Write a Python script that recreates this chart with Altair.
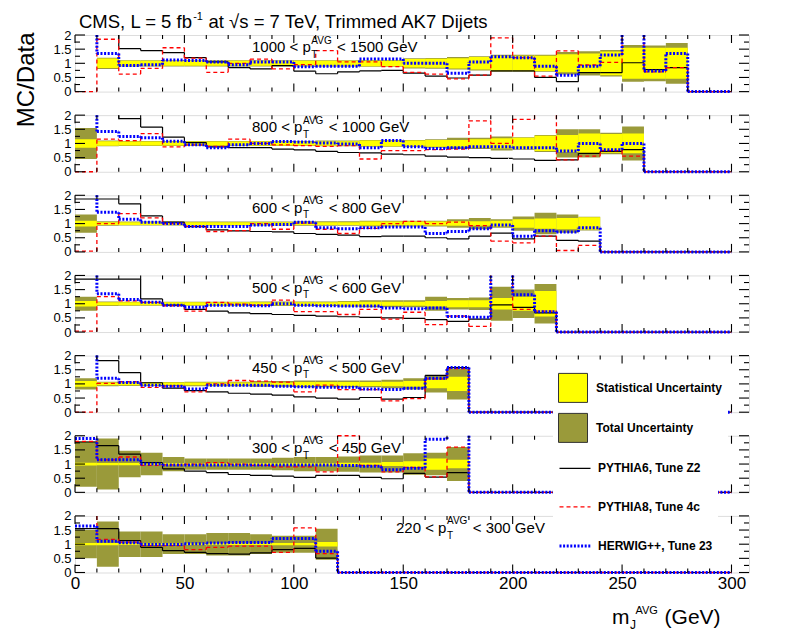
import altair as alt
import pandas as pd

FONT = "Liberation Sans"
BIN = 10.0
X_MAX = 308
W_PANEL = 674
H_PANEL = 56.6
GAP = 23.15

# ---------------- data ----------------
pt_lo = [1000, 800, 600, 500, 450, 300, 220]
pt_hi = [1500, 1000, 800, 600, 500, 450, 300]

series_names = ["PYTHIA6, Tune Z2", "PYTHIA8, Tune 4c", "HERWIG++, Tune 23"]
band_names = ["Statistical Uncertainty", "Total Uncertainty"]

# panel 1: 1000 < pT < 1500
p6_1 = [2.3, 2.3, 1.52, 1.45, 1.38, 1.2, 1.05, 0.85, 0.8, 0.92, 0.72, 0.63, 0.7, 0.73, 0.75, 0.65, 0.55, 0.48, 0.58, 0.73, 0.73, 0.5, 0.35, 0.67, 0.67, 1.02, 0.78, 0.85, 0, 0]
p8_1 = [0, 1.85, 0.62, 0.82, 1.55, 1.18, 0.68, 1.0, 1.15, 0.8, 0.95, 1.45, 1.05, 1.05, 0.88, 0.68, 0.62, 0.45, 0.58, 1.9, 1.2, 0.55, 1.44, 0.94, 1.03, 2.3, 0.7, 0.85, 0, 0]
hw_1 = [2.3, 1.35, 0.92, 0.95, 1.12, 1.1, 1.05, 0.95, 1.05, 1.05, 0.88, 0.9, 0.9, 1.15, 1.15, 1.0, 1.0, 0.65, 1.05, 1.23, 1.2, 0.9, 0.58, 0.9, 1.29, 2.3, 0.73, 1.35, 0, 0]
stat_1 = [None, 0.17, 0.09, 0.09, 0.09, 0.09, 0.09, 0.09, 0.09, 0.09, 0.09, 0.09, 0.09, 0.1, 0.1, 0.15, 0.16, 0.18, 0.22, 0.27, 0.27, 0.27, 0.32, 0.35, 0.42, 0.55, 0.55, 0.55]
tot_1 = [None, 0.2, 0.11, 0.11, 0.11, 0.11, 0.11, 0.11, 0.11, 0.11, 0.11, 0.11, 0.11, 0.12, 0.12, 0.18, 0.19, 0.22, 0.25, 0.3, 0.3, 0.3, 0.4, 0.43, 0.47, 0.65, 0.63, 0.72]

# panel 2: 800 < pT < 1000
p6_2 = [2.3, 2.3, 1.88, 1.58, 1.22, 1.03, 0.88, 0.85, 0.85, 0.8, 0.77, 0.72, 0.68, 0.67, 0.62, 0.6, 0.55, 0.52, 0.5, 0.47, 0.45, 0.4, 0.42, 0.65, 0.72, 0.78, 0, 0, 0, 0]
p8_2 = [0, 1.15, 1.1, 1.35, 0.88, 0.95, 0.9, 1.15, 1.0, 0.95, 0.92, 0.9, 0.92, 0.45, 0.75, 0.75, 0.78, 0.8, 1.8, 1.0, 1.85, 2.3, 0.42, 0.55, 0.75, 0.55, 0, 0, 0, 0]
hw_2 = [2.3, 1.42, 1.25, 1.2, 1.08, 0.95, 0.85, 0.95, 1.0, 1.07, 1.05, 1.02, 0.98, 0.85, 1.1, 0.88, 0.82, 0.85, 0.88, 0.88, 0.85, 0.85, 0.73, 1.0, 0.78, 1.0, 0, 0, 0, 0]
stat_2 = [0.15, 0.08, 0.07, 0.07, 0.07, 0.07, 0.07, 0.07, 0.07, 0.07, 0.07, 0.08, 0.08, 0.1, 0.1, 0.1, 0.12, 0.12, 0.15, 0.18, 0.2, 0.27, 0.3, 0.35, 0.33, 0.35]
tot_2 = [0.55, 0.1, 0.09, 0.09, 0.09, 0.09, 0.09, 0.09, 0.09, 0.09, 0.09, 0.1, 0.1, 0.12, 0.12, 0.12, 0.15, 0.2, 0.2, 0.25, 0.22, 0.3, 0.5, 0.5, 0.38, 0.6]

# panel 3: 600 < pT < 800
p6_3 = [1.87, 1.87, 1.7, 1.27, 1.05, 0.89, 0.78, 0.74, 0.72, 0.71, 0.65, 0.62, 0.59, 0.54, 0.56, 0.56, 0.5, 0.46, 0.56, 0.66, 0.46, 0.56, 0.41, 0.38, 0, 0, 0, 0, 0, 0]
p8_3 = [0.03, 1.0, 1.35, 1.2, 1.0, 0.9, 0.72, 0.75, 1.0, 0.8, 1.02, 0.8, 0.65, 0.83, 1.0, 1.08, 1.0, 1.05, 0.93, 0.38, 0.32, 0.56, 0.05, 0.23, 0, 0, 0, 0, 0, 0]
hw_3 = [2.3, 1.4, 1.15, 1.05, 1.0, 0.9, 0.9, 0.9, 0.95, 0.97, 1.05, 0.85, 0.82, 0.85, 0.88, 0.88, 0.65, 0.72, 0.82, 0.95, 0.55, 0.75, 0.7, 0.85, 0, 0, 0, 0, 0, 0]
stat_3 = [0.1, 0.05, 0.05, 0.05, 0.05, 0.05, 0.05, 0.05, 0.05, 0.05, 0.05, 0.05, 0.05, 0.07, 0.07, 0.07, 0.07, 0.08, 0.08, 0.1, 0.15, 0.18, 0.2, 0.22]
tot_3 = [0.32, 0.08, 0.07, 0.07, 0.07, 0.07, 0.07, 0.07, 0.07, 0.07, 0.08, 0.08, 0.08, 0.1, 0.1, 0.1, 0.1, 0.15, 0.2, 0.15, 0.25, 0.38, 0.32, 0.24]

# panel 4: 500 < pT < 600
p6_4 = [1.87, 1.87, 1.87, 1.17, 0.95, 0.8, 0.74, 0.68, 0.65, 0.62, 0.59, 0.56, 0.54, 0.52, 0.5, 0.48, 0.44, 0.38, 0.46, 0.96, 0.87, 0.68, 0, 0, 0, 0, 0, 0, 0, 0]
p8_4 = [0.03, 1.25, 1.1, 1.05, 0.93, 0.74, 1.05, 0.99, 0.95, 1.13, 0.72, 0.72, 0.62, 0.8, 0.46, 0.7, 0.26, 0.56, 0.2, 2.3, 0.8, 0.74, 0, 0, 0, 0, 0, 0, 0, 0]
hw_4 = [2.3, 1.35, 1.15, 1.05, 0.95, 0.88, 0.95, 0.95, 0.93, 1.0, 0.95, 0.93, 0.92, 0.92, 0.85, 0.82, 0.85, 0.55, 0.52, 2.3, 1.32, 0.72, 0, 0, 0, 0, 0, 0, 0, 0]
stat_4 = [0.1, 0.05, 0.05, 0.05, 0.05, 0.05, 0.05, 0.05, 0.05, 0.05, 0.05, 0.05, 0.07, 0.07, 0.07, 0.07, 0.1, 0.12, 0.12, 0.2, 0.25, 0.45]
tot_4 = [0.25, 0.08, 0.07, 0.07, 0.07, 0.07, 0.07, 0.07, 0.08, 0.08, 0.08, 0.08, 0.1, 0.12, 0.12, 0.12, 0.25, 0.2, 0.22, 0.6, 0.5, 0.7]

# panel 5: 450 < pT < 500
p6_5 = [2.3, 1.82, 1.4, 1.04, 0.85, 0.76, 0.72, 0.67, 0.64, 0.6, 0.54, 0.5, 0.46, 0.52, 0.46, 0.52, 1.3, 1.58, 0, 0, 0, 0, 0, 0, 0, 0, 0, 0, 0, 0]
p8_5 = [0, 1.02, 1.08, 0.88, 0.92, 0.72, 1.0, 1.12, 1.1, 1.06, 0.72, 0.96, 0.8, 0.8, 0.4, 0.48, 1.18, 1.54, 0, 0, 0, 0, 0, 0, 0, 0, 0, 0, 0, 0]
hw_5 = [2.3, 1.2, 1.05, 0.95, 0.92, 0.82, 0.95, 0.95, 0.95, 0.92, 0.9, 0.88, 0.88, 0.82, 0.8, 0.85, 1.2, 1.58, 0, 0, 0, 0, 0, 0, 0, 0, 0, 0, 0, 0]
stat_5 = [0.1, 0.05, 0.05, 0.05, 0.05, 0.05, 0.05, 0.05, 0.05, 0.05, 0.07, 0.07, 0.07, 0.07, 0.08, 0.1, 0.15, 0.25]
tot_5 = [0.2, 0.08, 0.07, 0.07, 0.07, 0.08, 0.08, 0.08, 0.1, 0.1, 0.12, 0.12, 0.12, 0.12, 0.15, 0.2, 0.3, 0.55]

# panel 6: 300 < pT < 450
p6_6 = [1.78, 1.65, 1.35, 1.05, 0.83, 0.75, 0.7, 0.63, 0.6, 0.57, 0.53, 0.6, 0.6, 0.53, 0.48, 0.67, 0.54, 0.7, 0, 0, 0, 0, 0, 0, 0, 0, 0, 0, 0, 0]
p8_6 = [1.8, 1.15, 1.25, 0.95, 0.97, 1.0, 1.05, 1.0, 0.95, 0.9, 0.9, 0.72, 2.0, 0.95, 0.72, 0.88, 0.55, 1.6, 0, 0, 0, 0, 0, 0, 0, 0, 0, 0, 0, 0]
hw_6 = [1.9, 1.15, 1.15, 1.0, 0.97, 0.97, 0.97, 0.97, 0.97, 0.97, 0.97, 0.97, 0.95, 0.92, 0.8, 0.85, 1.88, 2.3, 0, 0, 0, 0, 0, 0, 0, 0, 0, 0, 0, 0]
stat_6 = [0.05, 0.04, 0.04, 0.04, 0.04, 0.04, 0.04, 0.04, 0.04, 0.04, 0.04, 0.04, 0.05, 0.05, 0.07, 0.1, 0.2, 0.15]
tot_6 = [0.8, 0.9, 0.47, 0.4, 0.25, 0.2, 0.2, 0.2, 0.2, 0.22, 0.25, 0.25, 0.27, 0.3, 0.3, 0.38, 0.4, 0.6]

# panel 7: 220 < pT < 300
p6_7 = [1.55, 1.55, 1.13, 0.89, 0.77, 0.71, 0.67, 0.65, 0.69, 0.81, 0.85, 0.51, 0, 0, 0, 0, 0, 0, 0, 0, 0, 0, 0, 0, 0, 0, 0, 0, 0, 0]
p8_7 = [2.3, 1.17, 1.07, 0.95, 0.95, 0.81, 0.89, 0.93, 0.93, 0.71, 1.58, 0.67, 0, 0, 0, 0, 0, 0, 0, 0, 0, 0, 0, 0, 0, 0, 0, 0, 0, 0]
hw_7 = [1.64, 1.1, 1.05, 0.99, 0.99, 1.02, 1.04, 1.06, 1.06, 1.2, 1.2, 0.75, 0, 0, 0, 0, 0, 0, 0, 0, 0, 0, 0, 0, 0, 0, 0, 0, 0, 0]
stat_7 = [0.04, 0.04, 0.03, 0.03, 0.03, 0.03, 0.03, 0.03, 0.03, 0.04, 0.04, 0.08]
tot_7 = [0.5, 0.8, 0.45, 0.45, 0.35, 0.35, 0.4, 0.4, 0.35, 0.3, 0.3, 0.55]

x_major_ticks = [0, 50, 100, 150, 200, 250, 300]
x_minor_ticks = [10, 20, 30, 40, 60, 70, 80, 90, 110, 120, 130, 140, 160, 170, 180, 190,
                 210, 220, 230, 240, 260, 270, 280, 290]
y_major_ticks = [0, 0.5, 1, 1.5, 2]
y_minor_ticks = [0.25, 0.75, 1.25, 1.75]

# ---------------- style ----------------
series_colors = ["#000000", "#ff0000", "#0000ff"]
series_dash = [[1, 0], [4, 3], [2, 1.6]]
series_width = [1.2, 1.3, 3.0]
band_colors = ["#ffff00", "#9a9a3a"]

panels_data = [
    (p6_1, p8_1, hw_1, stat_1, tot_1),
    (p6_2, p8_2, hw_2, stat_2, tot_2),
    (p6_3, p8_3, hw_3, stat_3, tot_3),
    (p6_4, p8_4, hw_4, stat_4, tot_4),
    (p6_5, p8_5, hw_5, stat_5, tot_5),
    (p6_6, p8_6, hw_6, stat_6, tot_6),
    (p6_7, p8_7, hw_7, stat_7, tot_7),
]

CW = {' ': 278, '<': 584, '=': 584, ',': 278, '-': 333, '.': 278, '(': 333, ')': 333,
      'p': 556, 'm': 833, 'f': 278, 'b': 556, 'a': 556, 't': 278, 's': 500, 'e': 556,
      'r': 333, 'i': 222, 'd': 556, 'j': 222, 'A': 667, 'V': 667, 'G': 778, 'T': 611,
      'J': 500, 'C': 722, 'M': 833, 'S': 667, 'L': 556, 'K': 667, 'D': 722, '\u221a': 549}


def tw(s, fs):
    return sum(CW.get(c, 556) for c in s) * fs / 1000.0


xs = alt.Scale(domain=[0, X_MAX], nice=False, zero=False)
ys = alt.Scale(domain=[0, 2], nice=False, zero=False)
fill_scale = alt.Scale(domain=band_names, range=band_colors)
stroke_scale = alt.Scale(domain=series_names, range=series_colors)
dash_scale = alt.Scale(domain=series_names, range=series_dash)
width_scale = alt.Scale(type="ordinal", domain=series_names, range=series_width)

y_common = dict(values=y_major_ticks, format="~g", ticks=False, domain=False, grid=False,
                labelFont=FONT, labelFontSize=13, labelPadding=4, labelColor="black",
                labelFlush=False, labelOverlap=False)
y_axis_first = alt.Axis(title="MC/Data", titleFont=FONT, titleFontSize=24, titleFontWeight="normal",
                        titleColor="black", titleAngle=270, titleAlign="right",
                        titleBaseline="alphabetic", titleX=-42, titleY=-3, **y_common)
y_axis_other = alt.Axis(title=None, **y_common)
x_axis = alt.Axis(values=x_major_ticks, format="d", ticks=False, domain=False, grid=False,
                  labelFont=FONT, labelFontSize=17, labelPadding=3, labelColor="black",
                  labelFlush=False, labelOverlap=False, title=None)

fill_legend = alt.Legend(title=None, orient="none", legendX=478, legendY=-148,
                         symbolType="square", symbolSize=841, symbolStrokeColor="#333333",
                         symbolStrokeWidth=1, labelFont=FONT, labelFontSize=12,
                         labelFontWeight="bold", labelColor="black", labelOffset=8,
                         rowPadding=6, padding=5, fillColor="white")
stroke_legend = alt.Legend(title=None, orient="none", legendX=478, legendY=-69,
                           symbolType="stroke", symbolSize=961, labelFont=FONT, labelFontSize=12,
                           labelFontWeight="bold", labelColor="black", labelOffset=6,
                           rowPadding=15.5, padding=5, fillColor="white")


def segments(vals, name):
    h, v = [], []
    for k, val in enumerate(vals):
        if val <= 2.0:
            h.append({"series": name, "x": k * BIN, "x2": (k + 1) * BIN, "y": val})
    for k in range(1, len(vals)):
        a, b = min(vals[k - 1], 2.0), min(vals[k], 2.0)
        if a != b:
            v.append({"series": name, "x": k * BIN, "y": a, "y2": b})
    return pd.DataFrame(h), pd.DataFrame(v)


def txt(s, px, py, fs, weight="normal"):
    return alt.Chart(pd.DataFrame({"t": [s]})).mark_text(
        align="left", baseline="alphabetic", font=FONT, fontSize=fs, fontWeight=weight,
        color="black").encode(x=alt.value(px), y=alt.value(py), text="t:N")


def make_panel(i):
    last = i == 6
    xa = x_axis if last else None
    ya = y_axis_first if i == 0 else y_axis_other
    fl = fill_legend if last else None
    sl = stroke_legend if last else None
    p6, p8, hw, st, tt = panels_data[i]
    layers = []
    for bname, errs in ((band_names[1], tt), (band_names[0], st)):
        rows = [dict(band=bname, x=k * BIN, x2=(k + 1) * BIN, lo=max(0.0, 1 - e), hi=min(2.0, 1 + e))
                for k, e in enumerate(errs) if e is not None]
        layers.append(alt.Chart(pd.DataFrame(rows)).mark_rect(clip=True).encode(
            x=alt.X("x:Q", scale=xs, axis=xa), x2="x2:Q",
            y=alt.Y("lo:Q", scale=ys, axis=ya), y2="hi:Q",
            fill=alt.Fill("band:N", scale=fill_scale, legend=fl)))
    for s, vals in zip(series_names, (p6, p8, hw)):
        hdf, vdf = segments(vals, s)
        enc = dict(stroke=alt.Stroke("series:N", scale=stroke_scale, legend=sl),
                   strokeDash=alt.StrokeDash("series:N", scale=dash_scale, legend=sl),
                   strokeWidth=alt.StrokeWidth("series:N", scale=width_scale, legend=sl))
        layers.append(alt.Chart(hdf).mark_rule().encode(
            x=alt.X("x:Q", scale=xs, axis=xa), x2="x2:Q",
            y=alt.Y("y:Q", scale=ys, axis=ya), **enc))
        layers.append(alt.Chart(vdf).mark_rule().encode(
            x=alt.X("x:Q", scale=xs, axis=xa),
            y=alt.Y("y:Q", scale=ys, axis=ya), y2="y2:Q", **enc))
    # inward ticks (ROOT style) on all four sides
    for vals, ln in ((x_major_ticks, 8), (x_minor_ticks, 4)):
        d = pd.DataFrame({"t": vals})
        layers.append(alt.Chart(d).mark_rule(color="black", strokeWidth=1.1).encode(
            x=alt.X("t:Q", scale=xs, axis=xa), y=alt.value(H_PANEL), y2=alt.value(H_PANEL - ln)))
        layers.append(alt.Chart(d).mark_rule(color="black", strokeWidth=1.1).encode(
            x=alt.X("t:Q", scale=xs, axis=xa), y=alt.value(0), y2=alt.value(ln)))
    for vals, ln in ((y_major_ticks, 10), (y_minor_ticks, 5)):
        d = pd.DataFrame({"t": vals})
        layers.append(alt.Chart(d).mark_rule(color="black", strokeWidth=1.1).encode(
            y=alt.Y("t:Q", scale=ys, axis=ya), x=alt.value(0), x2=alt.value(ln)))
        layers.append(alt.Chart(d).mark_rule(color="black", strokeWidth=1.1).encode(
            y=alt.Y("t:Q", scale=ys, axis=ya), x=alt.value(W_PANEL - ln), x2=alt.value(W_PANEL)))
    # panel label  "lo < p_T^AVG < hi GeV"
    x0 = 321 if last else 177
    m1 = f"{pt_lo[i]} < p"
    xa_ = x0 + tw(m1, 15)
    layers.append(txt(m1, x0, 17.3, 15))
    layers.append(txt("T", xa_ + 0.5, 22.8, 10))
    layers.append(txt("AVG", xa_ + 0.5, 8.5, 10))
    layers.append(txt(f"< {pt_hi[i]} GeV", xa_ + tw("AVG", 10) + 1 + tw(" ", 15), 17.3, 15))
    if i == 0:
        t1 = "CMS, L = 5 fb"
        xs1 = 4 + tw(t1, 18.5)
        layers.append(txt(t1, 4, -6.7, 18.5))
        layers.append(txt("-1", xs1 + 0.5, -15.5, 11))
        layers.append(txt("at \u221as = 7 TeV, Trimmed AK7 Dijets",
                          xs1 + tw("-1", 11) + 1 + tw(" ", 18.5), -6.7, 18.5))
    if last:
        xm = 537
        layers.append(txt("m", xm, 108.5, 21))
        layers.append(txt("J", xm + tw("m", 21) + 0.5, 113.5, 12))
        xsup = xm + tw("m", 21) + 6
        layers.append(txt("AVG", xsup, 98.5, 11))
        layers.append(txt("(GeV)", xsup + tw("AVG", 11) + tw(" ", 21), 108.5, 21))
    return alt.layer(*layers).properties(width=W_PANEL, height=H_PANEL)


panels = [make_panel(i) for i in range(7)]

chart = (
    alt.vconcat(*panels, spacing=GAP, bounds="flush")
    .resolve_scale(fill="independent", stroke="independent",
                   strokeDash="independent", strokeWidth="independent")
    .resolve_legend(fill="independent", stroke="independent",
                    strokeDash="independent", strokeWidth="independent")
    .properties(padding={"left": 5, "top": 2, "right": 5, "bottom": 5}, background="white")
    .configure_view(stroke="black", strokeWidth=1.6)
    .configure(font=FONT)
)

chart.save("out.html", embed_options={"renderer": "svg", "actions": False})
